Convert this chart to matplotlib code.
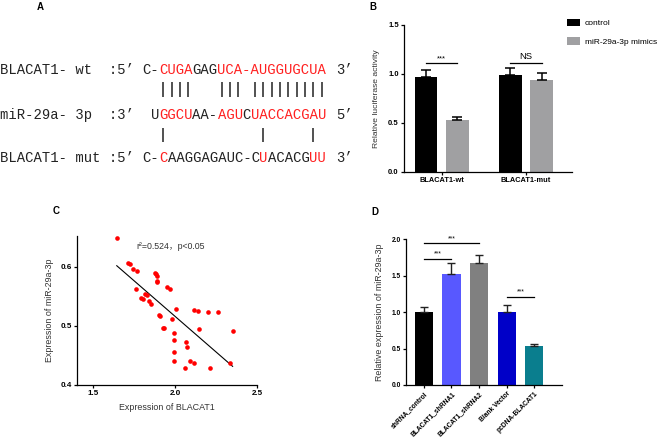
import numpy as np
import matplotlib.pyplot as plt

plt.rcParams['font.family'] = ['Liberation Sans', 'Noto Sans CJK SC', 'DejaVu Sans']
plt.rcParams['axes.linewidth'] = 0.9
plt.rcParams['xtick.major.width'] = 0.9
plt.rcParams['ytick.major.width'] = 0.9
plt.rcParams['xtick.major.size'] = 2.2
plt.rcParams['ytick.major.size'] = 2.2

# ---- panel A: sequence alignment ----
seq_names = ["BLACAT1- wt", "miR-29a- 3p", "BLACAT1- mut"]
seq_left_end = [":5’", ":3’", ":5’"]
seq_right_end = ["3’", "5’", "3’"]
sequences = ["C-CUGAGAGUCA-AUGGUGCUA", " UGGCUAA-AGUCUACCACGAU", "C-CAAGGAGAUC-CUACACGUU"]
red_positions = [
    [2, 3, 4, 5, 9, 10, 11, 12, 13, 14, 15, 16, 17, 18, 19, 20, 21],
    [2, 3, 4, 5, 9, 10, 11, 13, 14, 15, 16, 17, 18, 19, 20, 21],
    [2, 14, 20, 21],
]
pairs_wt = [2, 3, 4, 5, 9, 10, 11, 13, 14, 15, 16, 17, 18, 19, 20, 21]
pairs_mut = [2, 14, 20]

# ---- panel B: luciferase assay ----
luc_groups = ["BLACAT1-wt", "BLACAT1-mut"]
luc_control = [0.965, 0.985]
luc_control_err = [0.075, 0.072]
luc_mimics = [0.528, 0.938]
luc_mimics_err = [0.035, 0.068]
luc_sig = ["***", "NS"]

# ---- panel C: correlation ----
blacat1 = [1.643, 1.714, 1.724, 1.741, 1.769, 1.876, 1.884, 1.886, 1.888, 1.890,
           1.761, 1.947, 1.967, 1.814, 1.827, 1.794, 1.806, 1.841, 1.853, 2.004,
           2.118, 2.139, 2.200, 2.261, 1.902, 1.910, 1.978, 1.924, 1.933, 2.147,
           2.351, 1.990, 1.990, 2.065, 2.073, 1.990, 1.994, 2.090, 2.116, 2.337,
           2.057, 2.210]
mir29a = [0.648, 0.607, 0.605, 0.597, 0.592, 0.590, 0.587, 0.584, 0.576, 0.574,
          0.562, 0.566, 0.562, 0.554, 0.553, 0.547, 0.545, 0.542, 0.537, 0.529,
          0.527, 0.525, 0.524, 0.523, 0.519, 0.517, 0.512, 0.496, 0.496, 0.494,
          0.492, 0.488, 0.476, 0.472, 0.465, 0.455, 0.441, 0.441, 0.437, 0.437,
          0.429, 0.429]

# ---- panel D: qPCR ----
d_labels = ["shRNA_control", "BLACAT1_shRNA1", "BLACAT1_shRNA2", "Blank Vector", "pcDNA-BLACAT1"]
d_values = [0.995, 1.52, 1.667, 0.995, 0.53]
d_err = [0.078, 0.147, 0.113, 0.095, 0.03]
d_colors = ["#000000", "#5858ff", "#808080", "#0000c8", "#0a7e8e"]
d_sig_pairs = [(0, 2, 1.94), (0, 1, 1.73), (3, 4, 1.21)]

fig = plt.figure(figsize=(6.61, 4.42), dpi=100)

# overlay in pixel units for panel A and panel letters
ov = fig.add_axes([0, 0, 1, 1])
ov.set_xlim(0, 661)
ov.set_ylim(442, 0)
ov.axis('off')

for lab, xx, yy in [("A", 40, 10), ("B", 373, 10), ("C", 56, 214), ("D", 375, 215)]:
    ov.text(xx, yy, lab, fontsize=7, fontweight='bold', ha='center', va='baseline')

mono = 'Liberation Mono'
fs_seq = 10.0
pitch = 0.6 * fs_seq * 100 / 72   # advance of one monospace glyph, px
x_seq0 = 142.5                      # left edge of grid column 0
x_end = 336.0                       # left edge of the trailing 3'/5'
row_base = [74, 119, 162]
dark = '#222222'
red = '#ff2020'


def segments(text, reds):
    # split a row into runs of equal colour
    runs = []
    for k, ch in enumerate(text):
        c = red if k in reds else dark
        if runs and runs[-1][2] == c:
            runs[-1][1] += ch
        else:
            runs.append([k, ch, c])
    return runs


for r in range(3):
    ov.text(0.0, row_base[r], seq_names[r].ljust(13) + seq_left_end[r], family=mono,
            fontsize=fs_seq, ha='left', va='baseline', color=dark)
    for k0, txt, col in segments(sequences[r], red_positions[r]):
        if txt.strip() == "":
            continue
        lead = len(txt) - len(txt.lstrip())
        ov.text(x_seq0 + pitch * (k0 + lead), row_base[r], txt.strip(), family=mono,
                fontsize=fs_seq, ha='left', va='baseline', color=col)
    ov.text(x_end, row_base[r], seq_right_end[r], family=mono, fontsize=fs_seq,
            ha='left', va='baseline', color=dark)

ov.vlines([x_seq0 + pitch * (k + 0.5) for k in pairs_wt], 82, 97, color=dark, lw=1.1)
ov.vlines([x_seq0 + pitch * (k + 0.5) for k in pairs_mut], 128, 142, color=dark, lw=1.1)

# ---- panel B ----
axB = fig.add_axes([0.611, 0.6115, 0.255, 0.332])
xg = np.arange(len(luc_groups))
off = 0.185
w = 0.268
axB.bar(xg - off, luc_control, w, color='black', label='control',
        yerr=[np.zeros(2), luc_control_err], capsize=3.5,
        error_kw=dict(elinewidth=1.1, capthick=1.1, ecolor='black'))
axB.bar(xg + off, luc_mimics, w, color='#a0a0a2', label='miR-29a-3p mimics',
        yerr=[np.zeros(2), luc_mimics_err], capsize=3.5,
        error_kw=dict(elinewidth=1.1, capthick=1.1, ecolor='black'))
for i, s in enumerate(luc_sig):
    axB.plot([i - off, i + off], [1.111, 1.111], color='black', lw=0.9)
    axB.text(i, 1.13 if s == 'NS' else 1.12, s, ha='center', va='bottom',
             fontsize=6.8 if s == 'NS' else 5.5)
axB.set_xlim(-0.45, 1.55)
axB.set_ylim(0, 1.5)
axB.set_yticks([0.0, 0.5, 1.0, 1.5])
axB.set_yticklabels(["0.0", "0.5", "1.0", "1.5"], fontsize=5.5, fontweight='bold')
axB.set_xticks(xg)
axB.set_xticklabels(luc_groups, fontsize=5.3, fontweight='bold')
axB.set_ylabel("Relative luciferase activity", fontsize=6.1, labelpad=6, color='#333333')
axB.spines['top'].set_visible(False)
axB.spines['right'].set_visible(False)
axB.tick_params(pad=1.5)
axB.legend(loc='upper left', bbox_to_anchor=(0.852, 0.965), bbox_transform=fig.transFigure,
           frameon=False, fontsize=6, handlelength=1.6, handleheight=1.0,
           labelspacing=1.2, handletextpad=0.6, borderaxespad=0)

# ---- panel C ----
axC = fig.add_axes([0.1165, 0.129, 0.2723, 0.337])
axC.scatter(blacat1, mir29a, s=11, color='#ff0000', zorder=3, linewidths=0)
coef = np.polyfit(blacat1, mir29a, 1)
xl = np.array([min(blacat1), max(blacat1)])
axC.plot(xl, np.polyval(coef, xl), color='black', lw=0.8)
axC.text(0.52, 0.93, "r²=0.524，p<0.05", transform=axC.transAxes, fontsize=6.3,
         ha='center', va='center', color='#333333')
axC.set_xlim(1.4, 2.5)
axC.set_ylim(0.4, 0.652)
axC.set_xticks([1.5, 2.0, 2.5])
axC.set_xticklabels(["1.5", "2.0", "2.5"], fontsize=5.8, fontweight='bold')
axC.set_yticks([0.4, 0.5, 0.6])
axC.set_yticklabels(["0.4", "0.5", "0.6"], fontsize=5.8, fontweight='bold')
axC.set_xlabel("Expression of BLACAT1", fontsize=6.4, color='#333333', labelpad=4)
axC.set_ylabel("Expression of miR-29a-3p", fontsize=6.4, color='#333333', labelpad=5)
axC.spines['top'].set_visible(False)
axC.spines['right'].set_visible(False)
axC.tick_params(pad=1.5)

# ---- panel D ----
axD = fig.add_axes([0.614, 0.129, 0.236, 0.33])
xd = np.arange(len(d_labels))
axD.bar(xd, d_values, 0.66, color=d_colors,
        yerr=[np.zeros(len(xd)), d_err], capsize=3,
        error_kw=dict(elinewidth=1.0, capthick=1.0, ecolor='#222222'))
for a, b, yy in d_sig_pairs:
    axD.plot([a, b], [yy, yy], color='black', lw=0.9)
    axD.text((a + b) / 2, yy + 0.015, "***", ha='center', va='bottom', fontsize=4.8)
axD.set_xlim(-0.65, 5.0)
axD.set_ylim(0, 2.0)
axD.set_yticks([0.0, 0.5, 1.0, 1.5, 2.0])
axD.set_yticklabels(["0.0", "0.5", "1.0", "1.5", "2.0"], fontsize=4.8, fontweight='bold')
axD.set_xticks(xd)
axD.set_xticklabels(d_labels, fontsize=4.8, fontweight='bold', rotation=45,
                    ha='right', rotation_mode='anchor')
axD.set_ylabel("Relative expression of miR-29a-3p", fontsize=6.4, color='#333333', labelpad=5)
axD.spines['top'].set_visible(False)
axD.spines['right'].set_visible(False)
axD.tick_params(pad=1.5)

fig.savefig("out.png", dpi=100)
